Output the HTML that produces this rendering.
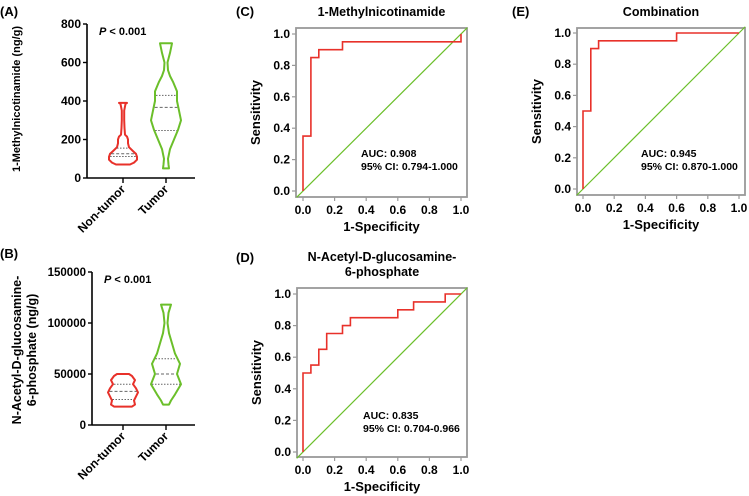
<!DOCTYPE html>
<html><head><meta charset="utf-8"><style>
body{margin:0;background:#fff;}
svg{display:block;font-family:"Liberation Sans",Arial,sans-serif;font-weight:bold;}
</style></head><body>
<svg id="s" width="749" height="496" viewBox="0 0 749 496" xmlns="http://www.w3.org/2000/svg">
<g font-size="13">
<text x="0" y="16">(A)</text>
<text x="0" y="258">(B)</text>
<text x="236" y="16">(C)</text>
<text x="236" y="262">(D)</text>
<text x="512" y="16">(E)</text>
</g>
</svg>
<script>
// ROC data
const rocC_fpr=[0,0,0.05,0.05,0.1,0.1,0.25,0.25,1,1];
const rocC_tpr=[0,0.35,0.35,0.85,0.85,0.9,0.9,0.95,0.95,1];
const rocD_fpr=[0,0,0.05,0.05,0.1,0.1,0.15,0.15,0.25,0.25,0.3,0.3,0.6,0.6,0.7,0.7,0.9,0.9,1];
const rocD_tpr=[0,0.5,0.5,0.55,0.55,0.65,0.65,0.75,0.75,0.8,0.8,0.85,0.85,0.9,0.9,0.95,0.95,1,1];
const rocE_fpr=[0,0,0.05,0.05,0.1,0.1,0.6,0.6,1];
const rocE_tpr=[0,0.5,0.5,0.9,0.9,0.95,0.95,1,1];
const rocTicks=[0,0.2,0.4,0.6,0.8,1.0];
const rocTickLabels=["0.0","0.2","0.4","0.6","0.8","1.0"];
// Violin data (value, relative half-width)
const groups=["Non-tumor","Tumor"];
const vA_non_y=[70,80,95,110,125,140,160,180,200,215,225,260,300,350,385,390];
const vA_non_w=[7,11,14,14,13,10,6,5,5,4,2,1.5,1.2,1.2,2.5,4];
const vA_tum_y=[50,70,100,150,200,250,300,350,400,450,500,530,560,600,650,700];
const vA_tum_w=[3,2.5,2,4,8,12,15,13,11,11,7,4,2,1.5,4,6];
const vA_non_q=[112,126,155];
const vA_tum_q=[247,367,429];
const vA_ticks=[0,200,400,600,800];
const vB_non_y=[18000,20000,24000,28000,32000,36000,40000,44000,48000,50000];
const vB_non_w=[9,12,11,13,15,13,10,12,9,6];
const vB_tum_y=[20000,24000,30000,40000,50000,60000,70000,80000,90000,100000,110000,118000];
const vB_tum_w=[3,5,9,15,11,14,9,6,3,1.5,2.5,5];
const vB_non_q=[25000,33000,40000];
const vB_tum_q=[40000,50000,65000];
const vB_ticks=[0,50000,100000,150000];

const NS="http://www.w3.org/2000/svg";
const svg=document.getElementById('s');
function el(tag,attrs,parent,txt){const e=document.createElementNS(NS,tag);for(const k in attrs)e.setAttribute(k,attrs[k]);if(txt!==undefined)e.textContent=txt;(parent||svg).appendChild(e);return e;}

function roc(name,fpr,tpr,box,title,auc,ci,txtX,txtY){
  const g=el('g',{});
  
  
  const sx=v=>box.x0+v*(box.x1-box.x0), sy=v=>box.y0-v*(box.y0-box.y1);
  const fr=el('rect',{x:box.l,y:box.t,width:box.r-box.l,height:box.b-box.t,fill:'none',stroke:'#999','stroke-width':1.8},g);
  
  const dg=el('line',{stroke:'#6bbf2a','stroke-width':1.2},g);
  dg.setAttribute('x1',sx(-0.04));dg.setAttribute('y1',sy(-0.04));dg.setAttribute('x2',sx(1.04));dg.setAttribute('y2',sy(1.04));
  
  let d='';fpr.forEach((f,i)=>{d+=(i?'L':'M')+sx(f).toFixed(1)+','+sy(tpr[i]).toFixed(1);});
  const p=el('path',{d:d,fill:'none',stroke:'#e8312a','stroke-width':1.6},g);
  
  rocTicks.forEach((t,i)=>{
    el('line',{x1:box.l-4,x2:box.l,y1:sy(t),y2:sy(t),stroke:'#999','stroke-width':1.2},g);
    el('line',{x1:sx(t),x2:sx(t),y1:box.b,y2:box.b+4,stroke:'#999','stroke-width':1.2},g);
    const yl=el('text',{x:box.l-6,y:sy(t)+4,'text-anchor':'end','font-size':12},g,rocTickLabels[i]);
    
    const xl=el('text',{x:sx(t),y:box.b+17,'text-anchor':'middle','font-size':12},g,rocTickLabels[i]);
    
  });
  const xt=el('text',{x:(box.l+box.r)/2,y:box.b+34,'text-anchor':'middle','font-size':13},g,'1-Specificity');
  
  const cy=(box.t+box.b)/2, cx=box.l-36;
  const yt=el('text',{x:cx,y:cy,'text-anchor':'middle','font-size':13,transform:`rotate(-90 ${cx} ${cy})`},g,'Sensitivity');
  
  title.forEach((t,i)=>{const tt=el('text',{x:(box.l+box.r)/2,y:box.t-12-(title.length-1-i)*15,'text-anchor':'middle','font-size':12.5},g,t);
    });
  const a=el('text',{x:txtX,y:txtY,'font-size':10.5},g,auc);
  const c=el('text',{x:txtX,y:txtY+13,'font-size':10.5},g,ci);
}
roc('roc-panel-c',rocC_fpr,rocC_tpr,{l:296,r:467,t:28,b:197,x0:303,x1:461,y0:191,y1:34},['1-Methylnicotinamide'],'AUC: 0.908','95% CI: 0.794-1.000',361,157);
roc('roc-panel-d',rocD_fpr,rocD_tpr,{l:297,r:467,t:288,b:457,x0:303,x1:461,y0:452,y1:294},['N-Acetyl-D-glucosamine-','6-phosphate'],'AUC: 0.835','95% CI: 0.704-0.966',363,419);
roc('roc-panel-e',rocE_fpr,rocE_tpr,{l:577,r:745,t:28,b:195,x0:583,x1:739,y0:189,y1:33},['Combination'],'AUC: 0.945','95% CI: 0.870-1.000',641,157);

function violinPanel(name,ax,ticks,tickLbl,yt,ytSize,yLines,data){
  const g=el('g',{});
  
  
  const sy=v=>ax.y0-v/ticks[ticks.length-1]*(ax.y0-ax.y1);
  const ya=el('line',{x1:ax.x,x2:ax.x,y1:ax.y1,y2:ax.y0,stroke:'#000','stroke-width':1.6},g);
  
  const xa=el('line',{x1:ax.x,x2:ax.xe,y1:ax.y0,y2:ax.y0,stroke:'#000','stroke-width':1.6},g);
  
  ticks.forEach((t,i)=>{
    el('line',{x1:ax.x-4,x2:ax.x,y1:sy(t),y2:sy(t),stroke:'#000','stroke-width':1.4},g);
    const l=el('text',{x:ax.x-6,y:sy(t)+4,'text-anchor':'end','font-size':tickLbl},g,String(t));
    
  });
  const cols=['#e8312a','#6bbf2a'];
  data.forEach((dd,k)=>{
    const cx=ax.c[k];
    el('line',{x1:cx,x2:cx,y1:ax.y0,y2:ax.y0+5,stroke:'#000','stroke-width':1.4},g);
    const lb=el('text',{x:cx+3,y:ax.y0+12,'text-anchor':'end','font-size':12,transform:`rotate(-45 ${cx+3} ${ax.y0+12})`},g,groups[k]);
    
    let r='',l='';
    dd.y.forEach((v,i)=>{r+=(i?'L':'M')+(cx+dd.w[i]).toFixed(1)+','+sy(v).toFixed(1);});
    for(let i=dd.y.length-1;i>=0;i--){l+='L'+(cx-dd.w[i]).toFixed(1)+','+sy(dd.y[i]).toFixed(1);}
    const p=el('path',{d:r+l+'Z',fill:'none',stroke:cols[k],'stroke-width':2,'stroke-linejoin':'round'},g);
    
    dd.q.forEach((q,j)=>{
      let w=dd.w[0];for(let i=1;i<dd.y.length;i++){if(q<=dd.y[i]){const f=(q-dd.y[i-1])/(dd.y[i]-dd.y[i-1]);w=dd.w[i-1]+f*(dd.w[i]-dd.w[i-1]);break;}}
      const ql=el('line',{x1:cx-w+1,x2:cx+w-1,y1:sy(q),y2:sy(q),stroke:'#666','stroke-width':1,'stroke-dasharray':j===1?'3,2':'1.5,1.5'},g);
      
    });
  });
  const pt=el('text',{x:ax.x+12,y:ax.y1+11,'font-size':11},g);
  
  el('tspan',{'font-style':'italic'},pt,'P');el('tspan',{},pt,' < 0.001');
  yLines.forEach((t,i)=>{const x=yt.x+i*15,y=yt.y;
    const tt=el('text',{x:x,y:y,'text-anchor':'middle','font-size':ytSize,transform:`rotate(-90 ${x} ${y})`},g,t);
    });
}
violinPanel('violin-panel-a',{x:87,xe:195,y0:178,y1:24,c:[123,166]},vA_ticks,12,{x:20,y:99},11,['1-Methylnicotinamide (ng/g)'],
 [{y:vA_non_y,w:vA_non_w,q:vA_non_q},{y:vA_tum_y,w:vA_tum_w,q:vA_tum_q}]);
violinPanel('violin-panel-b',{x:92,xe:195,y0:425,y1:272,c:[123,166]},vB_ticks,11.5,{x:21,y:350},12.5,['N-Acetyl-D-glucosamine-','6-phosphate (ng/g)'],
 [{y:vB_non_y,w:vB_non_w,q:vB_non_q},{y:vB_tum_y,w:vB_tum_w,q:vB_tum_q}]);
</script>
</body></html>
